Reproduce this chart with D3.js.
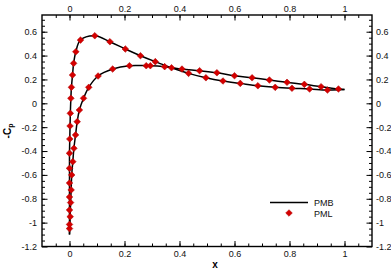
<!DOCTYPE html>
<html>
<head>
<meta charset="utf-8">
<script src="https://cdn.jsdelivr.net/npm/d3@7"></script>
<style>
  body { margin: 0; background: #fff; }
  text { font-family: "Liberation Sans", Arial, sans-serif; }
</style>
</head>
<body>
<div id="chart"></div>
<script>
// PML markers, upper surface (stagnation -> trailing edge)
const upperX = [0.0, 0.0, 0.0, 0.0, 0.0, 0.0, 0.0, 0.001, 0.002, 0.003, 0.005, 0.007, 0.011, 0.015, 0.023, 0.04, 0.092,
  0.147, 0.203, 0.258, 0.312, 0.371, 0.433, 0.496, 0.558, 0.621, 0.685, 0.748, 0.809, 0.873, 0.938];
const upperCp = [-1.05, -1.015, -0.894, -0.785, -0.668, -0.545, -0.419, -0.299, -0.19, -0.084, 0.042, 0.134, 0.237, 0.335, 0.432, 0.53, 0.566,
  0.516, 0.455, 0.399, 0.349, 0.298, 0.251, 0.214, 0.187, 0.167, 0.147, 0.134, 0.126, 0.12, 0.111];

// PML markers, lower surface
const lowerX = [0.0025, 0.004, 0.006, 0.008, 0.012, 0.016, 0.022, 0.028, 0.036, 0.051, 0.07, 0.104, 0.157, 0.218, 0.279, 0.294,
  0.346, 0.409, 0.473, 0.536, 0.6, 0.664, 0.727, 0.791, 0.854, 0.915, 0.978];
const lowerCp = [-0.95, -0.832, -0.726, -0.6, -0.489, -0.377, -0.265, -0.154, -0.056, 0.042, 0.134, 0.229, 0.287, 0.315, 0.315, 0.315,
  0.307, 0.287, 0.273, 0.256, 0.231, 0.214, 0.195, 0.176, 0.159, 0.139, 0.12];

// PMB line end points (stagnation and trailing edge)
const lineStart = [0.0, -1.1];
const lineEnd = [1.0, 0.115];

const xTicks = [0, 0.2, 0.4, 0.6, 0.8, 1];
const yTicks = [-1.2, -1, -0.8, -0.6, -0.4, -0.2, 0, 0.2, 0.4, 0.6];
const seriesNames = ["PMB", "PML"];

const width = 391, height = 273;
const margin = { top: 15, right: 19, bottom: 26.5, left: 42 };
const red = "#d50000";

const svg = d3.select("#chart").append("svg")
  .attr("width", width).attr("height", height);

const x = d3.scaleLinear().domain([-0.1, 1.1]).range([margin.left, width - margin.right]);
const y = d3.scaleLinear().domain([-1.2, 0.74]).range([height - margin.bottom, margin.top]);

const fmt = d => String(+d.toFixed(1));
const xMinor = d3.range(-0.05, 1.1, 0.05).map(d => +d.toFixed(2));
const yMinor = d3.range(-1.15, 0.74, 0.05).map(d => +d.toFixed(2));

function styleAxis(g) {
  g.select(".domain").remove();
  g.selectAll("line").attr("stroke", "#000").attr("stroke-width", 1);
  g.selectAll("text").attr("font-size", 9).attr("fill", "#111");
}

const x0 = height - margin.bottom, x1 = margin.top;
// bottom
svg.append("g").attr("transform", `translate(0,${x0})`)
  .call(d3.axisBottom(x).tickValues(xMinor).tickSize(-3).tickFormat("")).call(styleAxis);
svg.append("g").attr("transform", `translate(0,${x0})`)
  .call(d3.axisBottom(x).tickValues(xTicks).tickSize(-5.5).tickPadding(4).tickFormat(fmt)).call(styleAxis);
// top
svg.append("g").attr("transform", `translate(0,${x1})`)
  .call(d3.axisTop(x).tickValues(xMinor).tickSize(-3).tickFormat("")).call(styleAxis);
svg.append("g").attr("transform", `translate(0,${x1})`)
  .call(d3.axisTop(x).tickValues(xTicks).tickSize(-5.5).tickPadding(3).tickFormat(fmt)).call(styleAxis);
// left
svg.append("g").attr("transform", `translate(${margin.left},0)`)
  .call(d3.axisLeft(y).tickValues(yMinor).tickSize(-3).tickFormat("")).call(styleAxis);
svg.append("g").attr("transform", `translate(${margin.left},0)`)
  .call(d3.axisLeft(y).tickValues(yTicks).tickSize(-5.5).tickPadding(5).tickFormat(fmt)).call(styleAxis);
// right
svg.append("g").attr("transform", `translate(${width - margin.right},0)`)
  .call(d3.axisRight(y).tickValues(yMinor).tickSize(-3).tickFormat("")).call(styleAxis);
svg.append("g").attr("transform", `translate(${width - margin.right},0)`)
  .call(d3.axisRight(y).tickValues(yTicks).tickSize(-5.5).tickPadding(4).tickFormat(fmt)).call(styleAxis);

// frame
svg.append("rect")
  .attr("x", margin.left).attr("y", margin.top)
  .attr("width", width - margin.left - margin.right)
  .attr("height", height - margin.top - margin.bottom)
  .attr("fill", "none").attr("stroke", "#000").attr("stroke-width", 1.4);

// PMB lines
const upperPts = [lineStart].concat(upperX.map((d, i) => [d, upperCp[i]]), [lineEnd]);
const lowerPts = [lineStart].concat(lowerX.map((d, i) => [d, lowerCp[i]]), [lineEnd]);
const line = d3.line().x(d => x(d[0])).y(d => y(d[1])).curve(d3.curveCatmullRom.alpha(0.5));
[upperPts, lowerPts].forEach(pts => {
  svg.append("path").attr("d", line(pts))
    .attr("fill", "none").attr("stroke", "#000").attr("stroke-width", 1.5);
});

// PML markers
const diamond = d3.symbol().type(d3.symbolSquare).size(22);
const markers = upperX.map((d, i) => [d, upperCp[i]]).concat(lowerX.map((d, i) => [d, lowerCp[i]]));
svg.append("g").selectAll("path").data(markers).join("path")
  .attr("d", diamond)
  .attr("transform", d => `translate(${x(d[0])},${y(d[1])}) rotate(45)`)
  .attr("fill", red).attr("stroke", "#b00000").attr("stroke-width", 0.5);

// legend
const lg = svg.append("g");
lg.append("line").attr("x1", 270).attr("x2", 308).attr("y1", 202.5).attr("y2", 202.5)
  .attr("stroke", "#000").attr("stroke-width", 1.5);
lg.append("path").attr("d", diamond)
  .attr("transform", "translate(289,213) rotate(45)")
  .attr("fill", red).attr("stroke", "#b00000").attr("stroke-width", 0.5);
lg.selectAll("text").data(seriesNames).join("text")
  .attr("x", 314).attr("y", (d, i) => 205.5 + i * 11)
  .attr("font-size", 9).attr("fill", "#111").text(d => d);

// axis titles
svg.append("text").attr("x", 215).attr("y", 268).attr("text-anchor", "middle")
  .attr("font-size", 10).attr("font-weight", "bold").text("x");
const yt = svg.append("text").attr("transform", "translate(11,131) rotate(-90)")
  .attr("text-anchor", "middle").attr("font-size", 10).attr("font-weight", "bold");
yt.append("tspan").text("-C");
yt.append("tspan").attr("font-size", 7).attr("dy", 2).text("p");
</script>
</body>
</html>
